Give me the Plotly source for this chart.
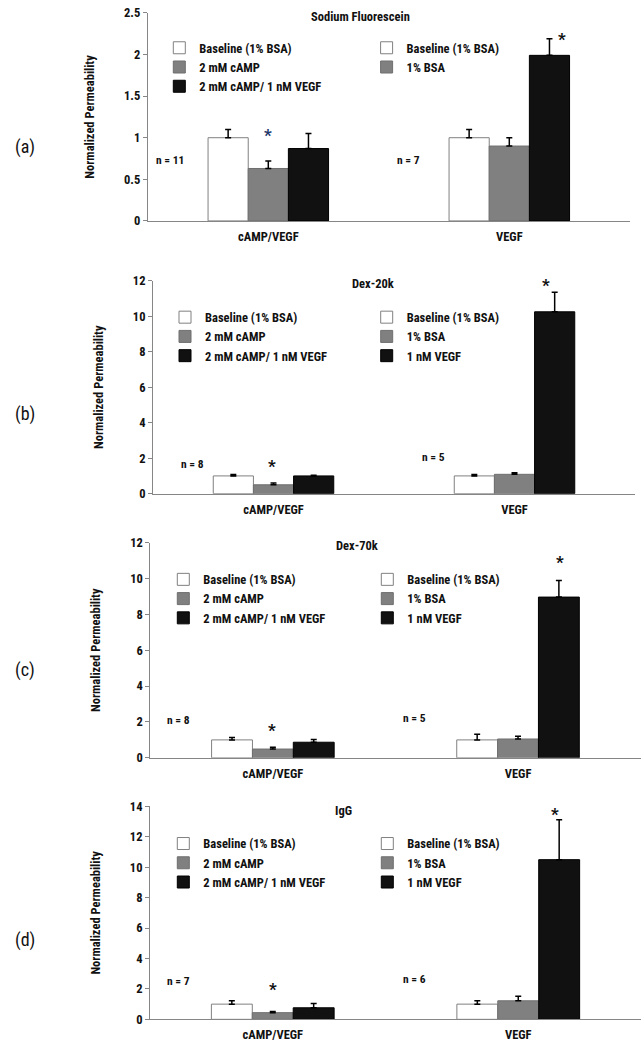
import plotly.graph_objects as go

W, H = 641, 1050

# ---------------- data ----------------
categories = ["cAMP/VEGF", "VEGF"]
panel_titles = ["Sodium Fluorescein", "Dex-20k", "Dex-70k", "IgG"]
panel_tags = ["(a)", "(b)", "(c)", "(d)"]
n_labels = [["n = 11", "n = 7"], ["n = 8", "n = 5"], ["n = 8", "n = 5"], ["n = 7", "n = 6"]]

left_names = ["Baseline (1% BSA)", "2 mM cAMP", "2 mM cAMP/ 1 nM VEGF"]
right_names = ["Baseline (1% BSA)", "1% BSA", "1 nM VEGF"]

# cAMP/VEGF group values and upper errors (per panel)
camp_vals = [[1.00, 0.63, 0.87], [1.00, 0.50, 1.00], [1.00, 0.49, 0.87], [1.00, 0.44, 0.76]]
camp_errs = [[0.10, 0.09, 0.18], [0.08, 0.10, 0.04], [0.14, 0.10, 0.15], [0.22, 0.08, 0.28]]
# VEGF group values and upper errors (per panel)
vegf_vals = [[1.00, 0.90, 1.99], [1.00, 1.09, 10.25], [1.00, 1.05, 8.96], [1.00, 1.22, 10.50]]
vegf_errs = [[0.10, 0.10, 0.20], [0.08, 0.09, 1.10], [0.32, 0.15, 0.93], [0.22, 0.30, 2.62]]

y_max = [2.5, 12, 12, 14]
y_dtick = [0.5, 2, 2, 2]

# ---------------- styling / layout ----------------
FONT = "Liberation Sans Narrow, Arial Narrow, Roboto Condensed, Liberation Sans, sans-serif"
fills = ["#ffffff", "#808080", "#111111"]
lines = ["#808080", "#6f6f6f", "#000000"]
AXC = "#868686"

# plot areas in pixels: (left, right, top, bottom)
plot_px = [(147.8, 629.8, 5, 216), (153, 635, 276.7, 492.7),
           (150.3, 640.6, 542.3, 760.7), (150, 641, 810, 1026)]
# legend text start x and first-row y (pixels)
leg_px = [((199.3, 40), (406.6, 40)), ((205, 313.3), (406.7, 313.3)),
          ((203.3, 579.3), (407.3, 579.3)), ((203.3, 847.3), (407.3, 847.3))]
title_px = [(360, 9), (373, 280), (356.7, 545.7), (343.3, 814)]
n_px = [[(170, 154), (408, 154)], [(193, 462.7), (433, 456)],
        [(178.3, 722.7), (415, 720)], [(178.3, 986.7), (415, 985)]]
star_px = [[(268, 125), (561.7, 27)], [(271.7, 460.7), (546, 277)],
           [(271.7, 728.3), (560, 558.3)], [(273.3, 991), (555, 813.3)]]
star_col = [["#23396b", "#111111"], ["#111111", "#111111"],
            ["#111111", "#111111"], ["#111111", "#111111"]]
tag_px = [(25, 141), (25, 412), (25, 672), (25, 945)]


def fx(px):
    return px / W


def fy(py):
    return 1 - py / H


fig = go.Figure()
layout = dict(
    width=W, height=H, margin=dict(l=0, r=0, t=0, b=0),
    paper_bgcolor="white", plot_bgcolor="white",
    barmode="group", bargap=0.5, bargroupgap=0,
    font=dict(family=FONT, size=12.5, color="#111111"),
    showlegend=True,
)
annotations = []
leg_idx = 0

for p in range(4):
    sfx = "" if p == 0 else str(p + 1)
    xa, ya = "x" + sfx, "y" + sfx
    l, r, t, b = plot_px[p]

    legs = []
    for side in range(2):
        leg_idx += 1
        lname = "legend" if leg_idx == 1 else "legend%d" % leg_idx
        legs.append(lname)
        tx, ty = leg_px[p][side]
        layout[lname] = dict(
            x=fx(tx - 30), y=fy(ty - 14.5), xanchor="left", yanchor="top",
            bgcolor="rgba(0,0,0,0)", borderwidth=0, itemwidth=30, indentation=-10,
            font=dict(family=FONT, size=12.5, color="#111111", weight="bold"),
            itemclick=False, itemdoubleclick=False,
        )

    for j in range(3):
        fig.add_trace(go.Bar(
            x=[categories[0]], y=[camp_vals[p][j]], name=left_names[j],
            legend=legs[0], offsetgroup=str(j), xaxis=xa, yaxis=ya,
            marker=dict(color=fills[j], line=dict(color=lines[j], width=1)),
            error_y=dict(type="data", symmetric=False, array=[camp_errs[p][j]],
                         arrayminus=[0], color="#000000", thickness=1.5, width=3),
        ))
    for j in range(3):
        fig.add_trace(go.Bar(
            x=[categories[1]], y=[vegf_vals[p][j]], name=right_names[j],
            legend=legs[1], offsetgroup=str(j), xaxis=xa, yaxis=ya,
            showlegend=not (p == 0 and j == 2),
            marker=dict(color=fills[j], line=dict(color=lines[j], width=1)),
            error_y=dict(type="data", symmetric=False, array=[vegf_errs[p][j]],
                         arrayminus=[0], color="#000000", thickness=1.5, width=3),
        ))

    layout["xaxis" + sfx] = dict(
        domain=[fx(l), fx(r)], anchor=ya, type="category",
        categoryorder="array", categoryarray=categories, range=[-0.5, 1.5],
        showline=True, linecolor=AXC, linewidth=1, ticks="", showgrid=False,
        zeroline=False, ticklabelstandoff=4,
        tickfont=dict(family=FONT, size=12.5, color="#111111", weight="bold"),
        fixedrange=True,
    )
    layout["yaxis" + sfx] = dict(
        domain=[fy(b), fy(t)], anchor=xa, range=[0, y_max[p]], dtick=y_dtick[p],
        tick0=0, showline=True, linecolor=AXC, linewidth=1, ticks="outside",
        ticklen=4, tickcolor=AXC, showgrid=False, zeroline=False,
        tickfont=dict(family=FONT, size=12.5, color="#111111", weight="bold"),
        title=dict(text="Normalized Permeability", standoff=26,
                   font=dict(family=FONT, size=12.5, color="#111111", weight="bold")),
        fixedrange=True,
    )

    # panel title
    tx, ty = title_px[p]
    annotations.append(dict(text=panel_titles[p], x=fx(tx), y=fy(ty), xref="paper", yref="paper",
                            xanchor="center", yanchor="middle", showarrow=False,
                            font=dict(family=FONT, size=12.5, color="#111111", weight="bold")))
    # n labels
    for k in range(2):
        nx, ny = n_px[p][k]
        annotations.append(dict(text=n_labels[p][k], x=fx(nx), y=fy(ny), xref="paper", yref="paper",
                                xanchor="center", yanchor="middle", showarrow=False,
                                font=dict(family=FONT, size=11.5, color="#111111", weight="bold")))
    # significance stars
    for k in range(2):
        sx, sy = star_px[p][k]
        annotations.append(dict(text="*", x=fx(sx), y=fy(sy + 4), xref="paper", yref="paper",
                                xanchor="center", yanchor="middle", showarrow=False,
                                font=dict(family=FONT, size=17, color=star_col[p][k], weight="bold")))
    # panel tag
    gx, gy = tag_px[p]
    annotations.append(dict(text=panel_tags[p], x=fx(gx), y=fy(gy), xref="paper", yref="paper",
                            xanchor="center", yanchor="middle", showarrow=False,
                            font=dict(family=FONT, size=18, color="#111111")))

layout["annotations"] = annotations
fig.update_layout(**layout)
fig.write_html("out.html", config={"displayModeBar": False},
               post_script="document.body.style.margin='0';document.body.style.overflow='hidden';")
